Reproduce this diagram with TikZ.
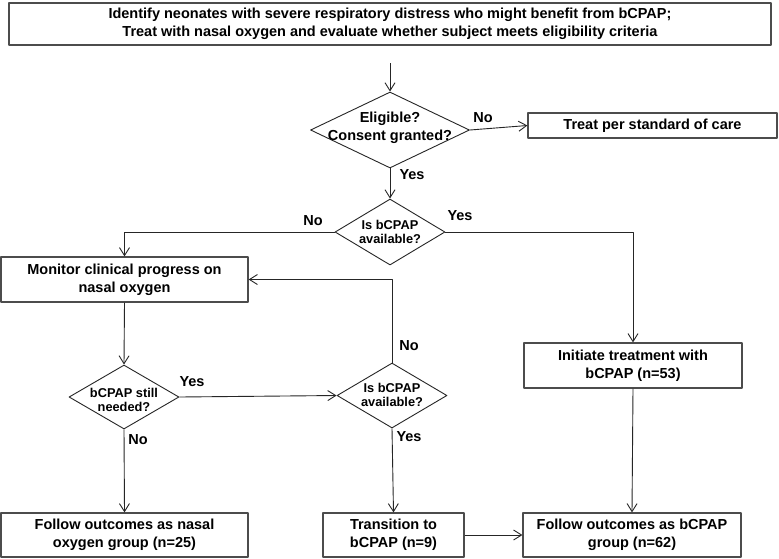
\documentclass[tikz,border=0pt]{standalone}
\usepackage{fontspec}
\setmainfont{Liberation Sans}
\usetikzlibrary{shapes.geometric,arrows.meta}
\begin{document}
\begin{tikzpicture}[x=1pt,y=-1pt,line join=round,>={Straight Barb[length=8pt,width=10pt]},
  box/.style={draw=black!70,line width=1.2pt,inner sep=0pt,align=center,font=\bfseries\fontsize{14.5}{18}\selectfont},
  decision/.style={draw=black!85,line width=0.9pt,shape=diamond,inner sep=0pt},
  qbig/.style={align=center,inner sep=0pt,font=\bfseries\fontsize{14.5}{18}\selectfont},
  qsmall/.style={align=center,inner sep=0pt,font=\bfseries\fontsize{12.8}{14.5}\selectfont},
  lbl/.style={inner sep=0pt,font=\bfseries\fontsize{14.5}{17}\selectfont},
  flow/.style={draw=black!85,line width=0.9pt}]
\useasboundingbox[fill=white](0,0) rectangle (779,558);

\node[box,minimum width=762,minimum height=42] (ident) at (390,24)
  {Identify neonates with severe respiratory distress who might benefit from bCPAP;\\
   Treat with nasal oxygen and evaluate whether subject meets eligibility criteria};
\node[box,minimum width=249,minimum height=25] (treat) at (652.5,125.5) {Treat per standard of care};
\node[box,minimum width=247,minimum height=45] (monitor) at (124.5,279.5) {Monitor clinical progress on\\nasal oxygen};
\node[box,minimum width=218,minimum height=45] (initiate) at (633,365.5) {Initiate treatment with\\bCPAP (n=53)};
\node[box,minimum width=247,minimum height=44] (nasalgrp) at (124.5,535) {Follow outcomes as nasal\\oxygen group (n=25)};
\node[box,minimum width=141,minimum height=44] (trans) at (393.5,535) {Transition to\\bCPAP (n=9)};
\node[box,minimum width=218,minimum height=44] (bcpapgrp) at (632,535) {Follow outcomes as bCPAP\\group (n=62)};

\node[decision,minimum width=159,minimum height=76] (elig) at (390,130) {};
\node[qbig] (elig-t) at (390,128) {Eligible?\\Consent granted?};
\node[decision,minimum width=110,minimum height=66] (avail) at (390,232) {};
\node[qsmall] (avail-t) at (390,232) {Is bCPAP\\available?};
\node[decision,minimum width=110,minimum height=64] (needed) at (124,397) {};
\node[qsmall] (needed-t) at (124,400) {bCPAP still\\needed?};
\node[decision,minimum width=110,minimum height=65] (availb) at (392,395.5) {};
\node[qsmall] (availb-t) at (392,395) {Is bCPAP\\available?};

\coordinate (start) at (390,63);
\draw[flow,->](start)--(elig.north);
\draw[flow,->](elig.east)--(treat.west);
\draw[flow,->](elig.south)--(avail.north);
\draw[flow,->](avail.west)-|(monitor.north);
\draw[flow,->](avail.east)-|(initiate.north);
\draw[flow,->](monitor.south)--(needed.north);
\draw[flow,->](needed.east)--(availb.west);
\draw[flow,->](needed.south)--(nasalgrp.north);
\draw[flow,->](availb.north)|-(monitor.east);
\draw[flow,->](availb.south)--(trans.north);
\draw[flow,->](initiate.south)--(bcpapgrp.north);
\draw[flow,->](trans.east)--(bcpapgrp.west);

\node[lbl] (elig-no) at (483,118) {No};
\node[lbl] (elig-yes) at (412,175) {Yes};
\node[lbl] (avail-no) at (313,221) {No};
\node[lbl] (avail-yes) at (460,216) {Yes};
\node[lbl] (needed-yes) at (192,382) {Yes};
\node[lbl] (needed-no) at (138,440) {No};
\node[lbl] (availb-no) at (409,346) {No};
\node[lbl] (availb-yes) at (409,437) {Yes};
\end{tikzpicture}
\end{document}
